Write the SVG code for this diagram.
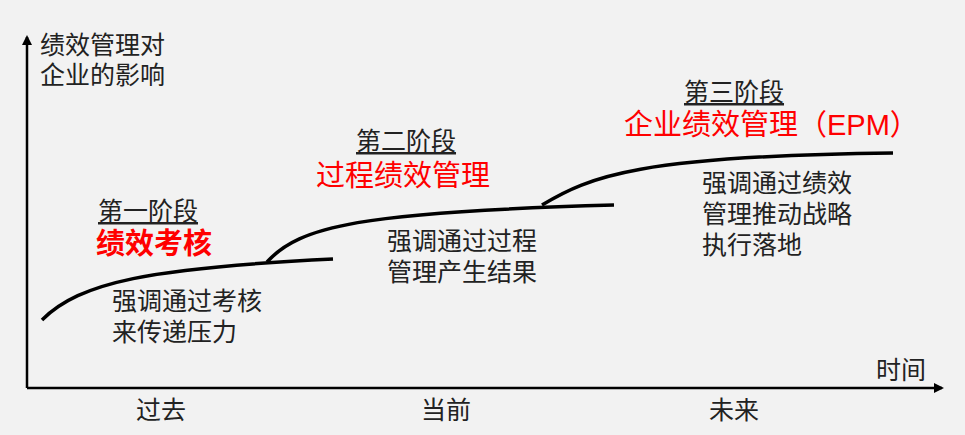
<svg xmlns="http://www.w3.org/2000/svg" width="965" height="435" viewBox="0 0 965 435">
<style>
.t{font-family:"Liberation Sans","Noto Sans CJK SC",sans-serif;font-size:25px;fill:#222}
.r{font-family:"Liberation Sans","Noto Sans CJK SC",sans-serif;font-size:29px;fill:#ff0000}
.u{text-decoration:underline}
.ax{stroke:#000;stroke-width:2.5;fill:none}
.c{stroke:#000;stroke-width:3.5;fill:none}
</style>
<defs><marker id="a" markerWidth="10" markerHeight="10" refX="8" refY="5" orient="auto" markerUnits="userSpaceOnUse"><path d="M0,0 L10,5 L0,10 Z" fill="#000"/></marker></defs>
<rect width="965" height="435" fill="#f2f2f2"/>
<g id="connectors">
<path class="ax" d="M27,388 L27,37" marker-end="url(#a)"/>
<path class="ax" d="M27,388 L942,388" marker-end="url(#a)"/>
<path class="c" d="M42,320 C80,282 150,268 333,259"/>
<path class="c" d="M267,262 C300,226 360,212 614,205"/>
<path class="c" d="M542,205 C590,176 640,156 893,153"/>
</g>
<g id="axis-labels">
<text class="t" x="40" y="54">绩效管理对</text>
<text class="t" x="40" y="84">企业的影响</text>
<text class="t" x="876" y="379">时间</text>
<text class="t" x="136" y="419">过去</text>
<text class="t" x="421" y="419">当前</text>
<text class="t" x="709" y="419">未来</text>
</g>
<g id="stage1">
<text class="t u" x="98" y="220">第一阶段</text>
<text class="r" x="96" y="254" font-weight="bold">绩效考核</text>
<text class="t" x="112" y="310">强调通过考核</text>
<text class="t" x="112" y="341">来传递压力</text>
</g>
<g id="stage2">
<text class="t u" x="356" y="150">第二阶段</text>
<text class="r" x="316" y="186">过程绩效管理</text>
<text class="t" x="387" y="250">强调通过过程</text>
<text class="t" x="387" y="281">管理产生结果</text>
</g>
<g id="stage3">
<text class="t u" x="684" y="101">第三阶段</text>
<text class="r" x="624" y="135">企业绩效管理（EPM）</text>
<text class="t" x="702" y="192">强调通过绩效</text>
<text class="t" x="702" y="223">管理推动战略</text>
<text class="t" x="702" y="254">执行落地</text>
</g>
</svg>
